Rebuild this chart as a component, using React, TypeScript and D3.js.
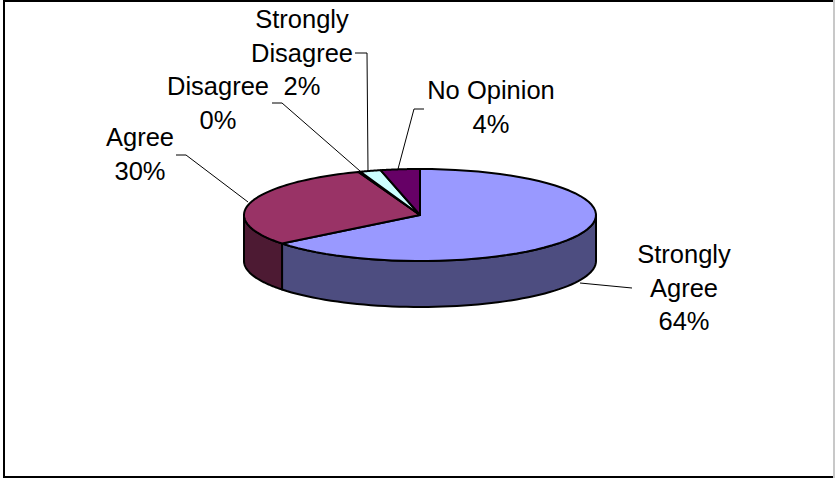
import React from "react";
import * as d3 from "d3";

const categories = ["Strongly Agree", "Agree", "Disagree", "Strongly Disagree", "No Opinion"];
const values = [64.4, 30.0, 0.2, 1.9, 3.6];
const topColors = ["#9999ff", "#993366", "#ffffcc", "#ccffff", "#660066"];
const sideColors = ["#4d4d80", "#4d1a33", "#808066", "#668080", "#330033"];

const W = 835, H = 478;
const cx = 420, cy = 215, rx = 176, ry = 46, depth = 46;

const labels = [
  { lines: ["Strongly", "Agree", "64%"], x: 684, y: 263 },
  { lines: ["Agree", "30%"], x: 140, y: 146 },
  { lines: ["Disagree", "0%"], x: 218, y: 95 },
  { lines: ["Strongly", "Disagree", "2%"], x: 302, y: 28 },
  { lines: ["No Opinion", "4%"], x: 491, y: 99 },
];
const leaders: [number, number][][] = [
  [[632, 288], [580, 283]],
  [[176, 155], [186, 155], [248, 202]],
  [[272, 103], [282, 103], [360, 171]],
  [[355, 53], [367, 53], [368, 171]],
  [[424, 109], [414, 109], [398, 169]],
];

export default function App() {
  const arcs = d3.pie<number>().sort(null)(values);
  const px = (a: number) => cx + rx * Math.sin(a);
  const py = (a: number) => cy - ry * Math.cos(a);
  const line = d3.line();
  const sample = (a0: number, a1: number) =>
    d3.range(0, 61).map((i) => a0 + ((a1 - a0) * i) / 60);

  const topPath = (a0: number, a1: number) =>
    line([[cx, cy], ...sample(a0, a1).map((a) => [px(a), py(a)] as [number, number])])! + "Z";

  // visible wall: the part of the slice lying in the front half (pi/2 .. 3pi/2)
  const sidePath = (a0: number, a1: number) => {
    const s = Math.max(a0, Math.PI / 2), e = Math.min(a1, (3 * Math.PI) / 2);
    if (e <= s) return null;
    const pts = sample(s, e);
    const upper = pts.map((a) => [px(a), py(a)] as [number, number]);
    const lower = pts.slice().reverse().map((a) => [px(a), py(a) + depth] as [number, number]);
    return line([...upper, ...lower])! + "Z";
  };

  return (
    <svg
      width={W}
      height={H}
      viewBox={`0 0 ${W} ${H}`}
      style={{ position: "absolute", left: 0, top: 0, background: "#fff" }}
    >
      <line x1={3} y1={1} x2={834} y2={1} stroke="#000" strokeWidth={2} />
      <line x1={4} y1={0} x2={4} y2={478} stroke="#000" strokeWidth={2} />
      <line x1={3} y1={477} x2={834} y2={477} stroke="#000" strokeWidth={2} />
      <line x1={834} y1={0} x2={834} y2={478} stroke="#c8c8c8" strokeWidth={2} />
      {arcs.map((d, i) => {
        const p = sidePath(d.startAngle, d.endAngle);
        return p ? (
          <path key={categories[i] + "side"} d={p} fill={sideColors[i]} stroke="#000" strokeWidth={2} strokeLinejoin="round" />
        ) : null;
      })}
      {arcs.map((d, i) => (
        <path key={categories[i]} d={topPath(d.startAngle, d.endAngle)} fill={topColors[i]} stroke="#000" strokeWidth={2} strokeLinejoin="round" />
      ))}
      {leaders.map((pts, i) => (
        <path key={i} d={line(pts)!} fill="none" stroke="#000" strokeWidth={1} />
      ))}
      {labels.map((l, i) => (
        <text key={i} x={l.x} textAnchor="middle" fontFamily="Liberation Sans, Arial, sans-serif" fontSize={25.5} fill="#000">
          {l.lines.map((t, j) => (
            <tspan key={j} x={l.x} y={l.y + j * 33.5}>{t}</tspan>
          ))}
        </text>
      ))}
    </svg>
  );
}
